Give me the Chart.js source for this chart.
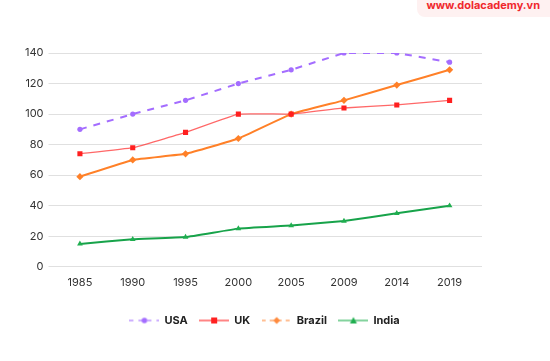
<!DOCTYPE html>
<html>
<head>
    <script src="https://cdn.jsdelivr.net/npm/chart.js"></script>
    <style>
        body { margin: 0; background: #fff; }
        #wrap { position: relative; width: 550px; height: 361px; overflow: hidden; }
        #site {
            position: absolute; right: 0px; top: -9px;
            padding: 7px 10px 5px 9px;
            background: #fef1f1; border-radius: 0 0 0 8px;
            color: #f0282d; font: bold 11px Inter, "DejaVu Sans", sans-serif;
        }
    </style>
</head>
<body>
<div id="wrap">
    <canvas id="myChart" width="550" height="361"></canvas>
    <div id="site">www.dolacademy.vn</div>
</div>
<script>
    const years = ['1985', '1990', '1995', '2000', '2005', '2009', '2014', '2019'];
    const usa = [90, 100, 109, 120, 129, 140, 140, 134];
    const uk = [74, 78, 88, 100, 100, 104, 106, 109];
    const brazil = [59, 70, 74, 84, 100, 109, 119, 129];
    const india = [15, 18, 19.5, 25, 27, 30, 35, 40];

    // legend icons: a short line with the marker in the middle
    function legendIcon(color, dash, style) {
        let c = document.createElement('canvas');
        c.width = 30; c.height = 12;
        let g = c.getContext('2d');
        g.globalAlpha = 0.55;
        g.strokeStyle = color;
        g.lineWidth = 2;
        g.setLineDash(dash);
        g.beginPath(); g.moveTo(0, 6); g.lineTo(30, 6); g.stroke();
        g.globalAlpha = 1;
        g.fillStyle = color;
        g.beginPath();
        if (style == 'circle') g.arc(15, 6, 2.8, 0, Math.PI * 2);
        if (style == 'rect') g.rect(12, 3, 6, 6);
        if (style == 'rectRot') { g.moveTo(15, 2.5); g.lineTo(18.5, 6); g.lineTo(15, 9.5); g.lineTo(11.5, 6); }
        if (style == 'triangle') { g.moveTo(15, 2.5); g.lineTo(18.5, 9); g.lineTo(11.5, 9); }
        g.fill();
        return c;
    }

    const icons = [
        legendIcon('#a46dff', [4, 5], 'circle'),
        legendIcon('#ff2020', [], 'rect'),
        legendIcon('#ff8a3d', [4, 4], 'rectRot'),
        legendIcon('#1fae4f', [], 'triangle')
    ];

    let ctx = document.getElementById('myChart').getContext('2d');
    let chart = new Chart(ctx, {
        type: 'line',
        data: {
            labels: years,
            datasets: [
                {
                    label: 'USA', data: usa,
                    borderColor: '#a46dff', backgroundColor: '#a46dff',
                    borderWidth: 2, borderDash: [7, 7], tension: 0,
                    pointStyle: 'circle', pointRadius: 2.6, pointBorderWidth: 0
                },
                {
                    label: 'UK', data: uk,
                    borderColor: 'rgba(255, 40, 40, 0.7)', backgroundColor: '#ff1f1f',
                    borderWidth: 1.3,
                    pointStyle: 'rect', pointRadius: 3.6, pointBorderWidth: 0
                },
                {
                    label: 'Brazil', data: brazil,
                    borderColor: '#ff8028', backgroundColor: '#ff8028',
                    borderWidth: 2,
                    pointStyle: 'rectRot', pointRadius: 3.6, pointBorderWidth: 0
                },
                {
                    label: 'India', data: india,
                    borderColor: '#17a34a', backgroundColor: '#1fae4f',
                    borderWidth: 2,
                    pointStyle: 'triangle', pointRadius: 3.3, pointBorderWidth: 0
                }
            ]
        },
        options: {
            responsive: false,
            animation: false,
            elements: { line: { tension: 0.1 } },
            layout: { padding: { top: 53, right: 68, left: 20, bottom: 25 } },
            scales: {
                x: {
                    offset: true,
                    grid: { display: false, drawTicks: false },
                    border: { display: false },
                    ticks: { color: '#333', padding: 9, font: { family: 'Inter', size: 11 } },
                    afterFit: function (s) { s.height += 5; }
                },
                y: {
                    min: 0, max: 140,
                    ticks: { stepSize: 20, color: '#333', padding: 5, font: { family: 'Inter', size: 11 } },
                    grid: { color: '#e0e0e0', tickLength: 5, tickColor: '#e0e0e0' },
                    border: { display: false }
                },
                y2: {
                    position: 'right', min: 0, max: 140,
                    ticks: { stepSize: 20, display: false },
                    grid: { drawOnChartArea: false, tickLength: 6, color: '#e0e0e0' },
                    border: { display: false }
                }
            },
            plugins: {
                tooltip: { enabled: false },
                legend: {
                    position: 'bottom',
                    fullSize: false,
                    labels: {
                        usePointStyle: true,
                        pointStyleWidth: 29,
                        padding: 12,
                        color: '#222',
                        font: { family: 'Inter', size: 11, weight: 'bold' },
                        generateLabels: function (ch) {
                            return ch.data.datasets.map(function (d, i) {
                                return { text: d.label, pointStyle: icons[i], datasetIndex: i, fontColor: '#222', lineWidth: 0, strokeStyle: 'transparent', fillStyle: 'transparent' };
                            });
                        }
                    }
                }
            }
        }
    });
</script>
</body>
</html>
